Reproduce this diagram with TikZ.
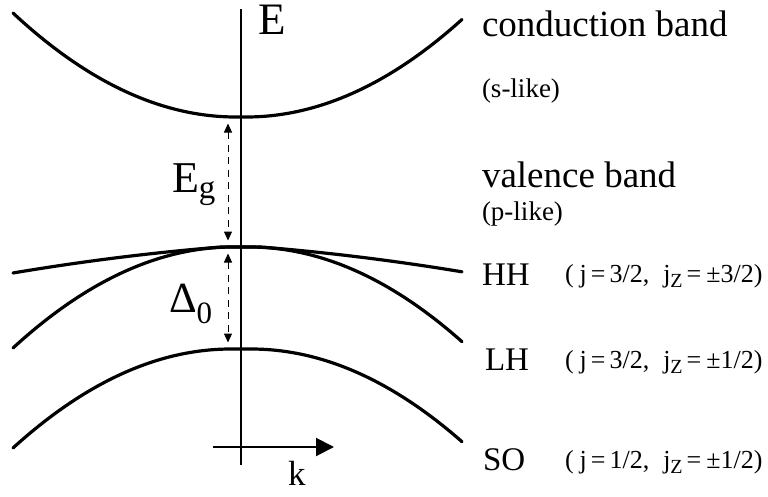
\documentclass[tikz,border=0pt]{standalone}
\usepackage{fontspec}
\setmainfont{Liberation Serif}
\usetikzlibrary{arrows.meta}
\newcommand\fsz[1]{\fontsize{#1}{#1}\selectfont}
\newcommand\jz{j\raisebox{-5pt}{\fsz{20}Z}}
\newcommand\qn[2]{\fsz{26}(\hspace{6pt}j\hspace{4pt}=\hspace{4pt}#1,\hspace{14pt}\jz\hspace{4pt}=\hspace{5pt}±#2)}
\begin{document}
\begin{tikzpicture}[x=1pt,y=-1pt,
  band/.style={line width=3.2pt,line join=round,line cap=round},
  axisline/.style={line width=1.3pt},
  gaparrow/.style={line width=1pt,dash pattern=on 7pt off 5.5pt,
     {Triangle[length=9pt,width=8pt]}-{Triangle[length=9pt,width=8pt]},
     shorten <=6.5pt, shorten >=6.5pt},
  lbl/.style={anchor=base west,inner sep=0pt,outer sep=0pt}]
\useasboundingbox (0,0) rectangle (768,496);
% axes
\coordinate (etop) at (241,9);
\coordinate (ebot) at (241,465);
\draw[axisline] (etop) -- (ebot);
\coordinate (kstart) at (213,447);
\coordinate (kend) at (334,447);
\draw[line width=2pt,-{Triangle[length=18pt,width=18pt]}] (kstart) -- (kend);
\node[lbl] (E) at (258,34) {\fsz{45}E};
\node[lbl] (k) at (288,485) {\fsz{35}k};
% bands
\draw[band] plot[domain=13:462,samples=150] (\x,{117-(0.045727*max(abs(\x-241)-5,0))^2});
\draw[band] plot[domain=13:462,samples=150] (\x,{247+0.0812*max(abs(\x-241)-20,0)+(0.01449*max(abs(\x-241)-20,0))^2});
\draw[band] plot[domain=13:462,samples=150] (\x,{247+(0.045684*max(abs(\x-241)-8,0))^2});
\draw[band] plot[domain=13:462,samples=150] (\x,{349+(0.04564*max(abs(\x-241)-10,0))^2});
% gap arrows
\coordinate (cb) at (228,117);
\coordinate (vb) at (228,247);
\coordinate (sob) at (228,349);
\draw[gaparrow] (cb) -- (vb);
\draw[gaparrow] (vb) -- (sob);
\node[lbl] (Eg) at (172,192) {\fsz{44}E\raisebox{-6pt}{\fsz{33}g}};
\node[lbl] (D0) at (169,312) {\fsz{43}Δ\raisebox{-11pt}{\fsz{31}0}};
% right labels
\node[lbl] (cbl) at (482,36) {\fsz{37}conduction band};
\node[lbl] (cbs) at (482,97) {\fsz{27}(s-like)};
\node[lbl] (vbl) at (482,187) {\fsz{37}valence band};
\node[lbl] (vbs) at (482,220) {\fsz{27}(p-like)};
\node[lbl] (hh) at (482,285) {\fsz{33}HH};
\node[lbl] (lh) at (485,370) {\fsz{33}LH};
\node[lbl] (so) at (483,470) {\fsz{33}SO};
\node[lbl] (hhq) at (565,282) {\qn{3/2}{3/2}};
\node[lbl] (lhq) at (565,368) {\qn{3/2}{1/2}};
\node[lbl] (soq) at (565,468) {\qn{1/2}{1/2}};
\end{tikzpicture}
\end{document}
